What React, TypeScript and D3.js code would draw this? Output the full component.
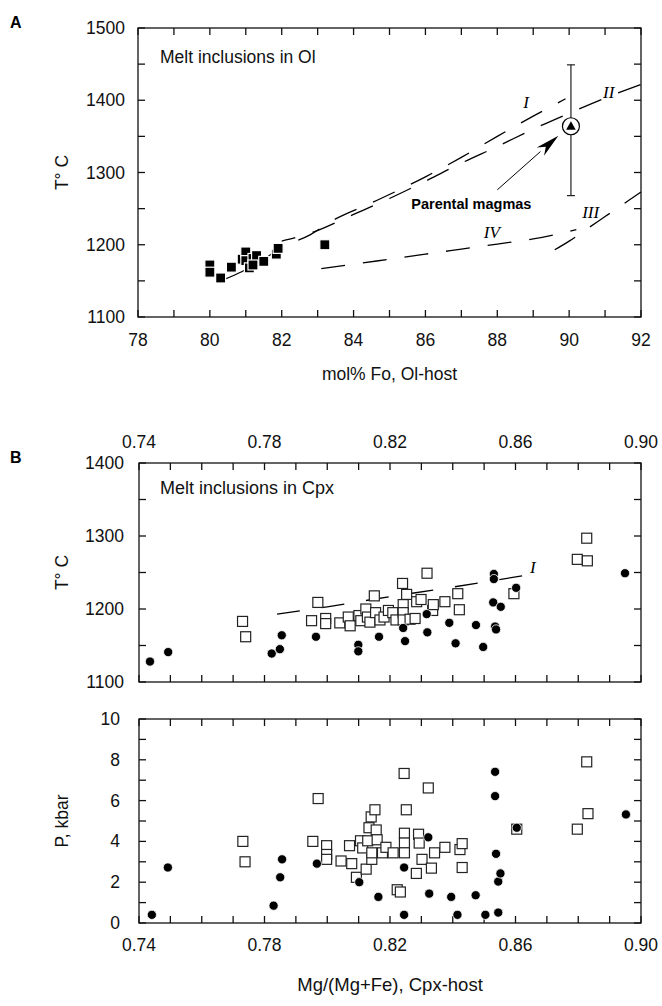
import React from 'react';
import * as d3 from 'd3';

const FONT = '"Liberation Sans", Arial, Helvetica, sans-serif';
const SERIF = '"Liberation Serif", "Times New Roman", serif';

// ---------- Panel A: melt inclusions in olivine ----------
const olFo = [80.0, 80.0, 80.3, 80.6, 80.9, 81.0, 81.0, 81.1, 81.2, 81.3, 81.2, 81.5, 81.85, 81.9, 83.2];
const olT = [1172, 1162, 1154, 1169, 1180, 1190, 1178, 1168, 1181, 1185, 1172, 1177, 1187, 1195, 1200];

const curveIFo = [80.4, 80.9, 81.5, 82.0, 82.8, 83.4, 84.5, 86.0, 87.0, 88.0, 89.0, 89.9];
const curveIT = [1152, 1163, 1180, 1196, 1214, 1233, 1258, 1294, 1321, 1350, 1378, 1402];
const curveIIFo = [82.0, 82.8, 84.0, 85.0, 86.0, 87.0, 88.0, 89.0, 90.0, 91.0, 92.0];
const curveIIT = [1205, 1216, 1242, 1264, 1288, 1313, 1336, 1360, 1382, 1403, 1422];
const curveIIIFo = [89.6, 90.0, 90.5, 91.0, 91.5, 92.0];
const curveIIIT = [1193, 1205, 1222, 1239, 1256, 1273];
const curveIVFo = [83.1, 84.0, 85.0, 86.0, 87.0, 88.0, 89.0, 90.2];
const curveIVT = [1167, 1173, 1180, 1187, 1194, 1201, 1208, 1221];

const parentalFo = 90.05;
const parentalT = 1364;
const parentalErrLow = 1268;
const parentalErrHigh = 1449;

const aXTicks = d3.range(78, 92.001, 1);
const aXLabels = [78, 80, 82, 84, 86, 88, 90, 92];
const aYTicks = d3.range(1100, 1500.1, 50);
const aYLabels = [1100, 1200, 1300, 1400, 1500];

// ---------- Panel B: melt inclusions in clinopyroxene ----------
const bXTicks = d3.range(0, 17).map((i) => 0.74 + i * 0.01);
const bXLabels = ['0.74', '0.78', '0.82', '0.86', '0.90'];
const btYTicks = d3.range(1100, 1400.1, 50);
const btYLabels = [1100, 1200, 1300, 1400];
const bbYTicks = d3.range(0, 10.1, 1);
const bbYLabels = [0, 2, 4, 6, 8, 10];

// open squares, T panel
const sqTopX = [0.773, 0.774, 0.795, 0.7995, 0.7995, 0.797, 0.804, 0.8067, 0.8073, 0.8101, 0.8107, 0.8123, 0.8128, 0.8136, 0.815, 0.8154, 0.8168, 0.8181, 0.8195, 0.8209, 0.8219, 0.824, 0.8253, 0.8242, 0.8242, 0.8242, 0.8264, 0.828, 0.8285, 0.8299, 0.8318, 0.8336, 0.8338, 0.8375, 0.8416, 0.8421, 0.8595, 0.8797, 0.8827, 0.8829];
const sqTopT = [1183, 1162, 1184, 1187, 1180, 1209, 1181, 1189, 1177, 1191, 1184, 1200, 1189, 1182, 1218, 1195, 1185, 1189, 1198, 1195, 1185, 1235, 1220, 1206, 1195, 1185, 1186, 1187, 1210, 1213, 1249, 1198, 1206, 1210, 1221, 1199, 1221, 1268, 1297, 1266];
// filled circles, T panel
const ciTopX = [0.7435, 0.7493, 0.7823, 0.7849, 0.7855, 0.7964, 0.8099, 0.8099, 0.8165, 0.8242, 0.8248, 0.8317, 0.8319, 0.8389, 0.8409, 0.8474, 0.8497, 0.8531, 0.8531, 0.8529, 0.8553, 0.8535, 0.8538, 0.8602, 0.8949];
const ciTopT = [1128, 1141, 1139, 1145, 1164, 1162, 1151, 1142, 1162, 1174, 1156, 1193, 1168, 1181, 1153, 1178, 1148, 1248, 1241, 1209, 1203, 1176, 1172, 1229, 1249];
// dashed line I, T panel
const lineBX = [0.784, 0.80, 0.82, 0.84, 0.866];
const lineBT = [1193, 1203, 1217, 1230, 1248];

// open squares, P panel
const sqBotX = [0.7731, 0.7738, 0.7954, 0.7971, 0.7998, 0.7998, 0.7998, 0.8044, 0.8071, 0.8078, 0.8093, 0.8106, 0.8113, 0.8124, 0.8129, 0.8133, 0.814, 0.8152, 0.8142, 0.8142, 0.8156, 0.8159, 0.8176, 0.8187, 0.821, 0.8223, 0.8233, 0.8245, 0.8246, 0.8246, 0.8246, 0.8252, 0.8284, 0.8291, 0.8293, 0.8302, 0.8322, 0.8332, 0.8342, 0.8375, 0.8423, 0.843, 0.843, 0.8604, 0.8797, 0.8827, 0.8831];
const sqBotP = [4.0, 3.0, 4.0, 6.1, 3.79, 3.36, 3.12, 3.04, 3.79, 2.91, 2.24, 4.03, 3.68, 2.64, 4.03, 4.67, 5.2, 5.55, 3.12, 3.44, 4.56, 4.08, 3.44, 3.71, 3.44, 1.63, 1.52, 7.33, 4.4, 3.92, 3.44, 5.55, 2.43, 4.35, 3.92, 3.12, 6.62, 2.69, 3.44, 3.71, 3.6, 3.89, 2.72, 4.6, 4.6, 7.9, 5.36];
// filled circles, P panel
const ciBotX = [0.7441, 0.7492, 0.7829, 0.785, 0.7856, 0.7967, 0.8102, 0.8163, 0.8245, 0.8245, 0.8322, 0.8325, 0.8395, 0.8415, 0.8473, 0.8504, 0.8535, 0.8535, 0.8538, 0.8545, 0.8545, 0.8552, 0.8604, 0.8952];
const ciBotP = [0.4, 2.72, 0.85, 2.24, 3.12, 2.91, 2.0, 1.28, 0.4, 2.72, 4.2, 1.44, 1.28, 0.4, 1.36, 0.4, 7.41, 6.22, 3.39, 2.03, 0.51, 2.43, 4.67, 5.32];

const A = { l: 138, r: 641, t: 28, b: 317 };
const BT = { l: 139, r: 641, t: 463, b: 682 };
const BB = { l: 139, r: 641, t: 719, b: 923 };
const TL = 7;
const FS = 17.5;

type Sc = d3.ScaleLinear<number, number>;

function Frame({ x, y, xt, yt }: { x: Sc; y: Sc; xt: number[]; yt: number[] }) {
  const [l, r] = x.range();
  const [b, t] = y.range();
  return (
    <g stroke="#111" strokeWidth={1.3} fill="none">
      <rect x={l} y={t} width={r - l} height={b - t} />
      {xt.map((v, i) => (
        <g key={'x' + i}>
          <line x1={x(v)} x2={x(v)} y1={t} y2={t + TL} />
          <line x1={x(v)} x2={x(v)} y1={b} y2={b - TL} />
        </g>
      ))}
      {yt.map((v, i) => (
        <g key={'y' + i}>
          <line x1={l} x2={l + TL} y1={y(v)} y2={y(v)} />
          <line x1={r} x2={r - TL} y1={y(v)} y2={y(v)} />
        </g>
      ))}
    </g>
  );
}

function Squares({ xs, ys, x, y, size, fill, stroke }: any) {
  return (
    <g>
      {xs.map((v: number, i: number) => (
        <rect key={i} x={x(v) - size / 2} y={y(ys[i]) - size / 2} width={size} height={size}
          fill={fill} stroke={stroke} strokeWidth={1.2} />
      ))}
    </g>
  );
}

function Circles({ xs, ys, x, y, r }: any) {
  return (
    <g>
      {xs.map((v: number, i: number) => (
        <circle key={i} cx={x(v)} cy={y(ys[i])} r={r} fill="#000" stroke="#fff" strokeWidth={0.8} />
      ))}
    </g>
  );
}

export default function App() {
  const xA = d3.scaleLinear().domain([78, 92]).range([A.l, A.r]);
  const yA = d3.scaleLinear().domain([1100, 1500]).range([A.b, A.t]);
  const xB = d3.scaleLinear().domain([0.74, 0.9]).range([BT.l, BT.r]);
  const yBT = d3.scaleLinear().domain([1100, 1400]).range([BT.b, BT.t]);
  const yBB = d3.scaleLinear().domain([0, 10]).range([BB.b, BB.t]);

  const lineA = (xs: number[], ys: number[]) =>
    d3.line<number>().x((d) => xA(d)).y((_, i) => yA(ys[i])).curve(d3.curveMonotoneX)(xs) || '';
  const lineBpath = d3.line<number>().x((d) => xB(d)).y((_, i) => yBT(lineBT[i]))(lineBX) || '';

  // arrow
  const ax1 = xA(88.0), ay1 = yA(1276);
  const ax2 = xA(89.7), ay2 = yA(1351);
  const ang = Math.atan2(ay2 - ay1, ax2 - ax1);
  const hl = 24, hw = 5.5;
  const bx = ax2 - hl * Math.cos(ang), by = ay2 - hl * Math.sin(ang);
  const mx = ax2 - hl * 0.7 * Math.cos(ang), my = ay2 - hl * 0.7 * Math.sin(ang);
  const px = -Math.sin(ang), py = Math.cos(ang);
  const head = `M${ax2},${ay2} L${bx + px * hw},${by + py * hw} L${mx},${my} L${bx - px * hw},${by - py * hw} Z`;

  const cx = xA(parentalFo), cy = yA(parentalT);

  const textStyle = { fontFamily: FONT, fontSize: FS, fill: '#111' };

  return (
    <svg width={662} height={1006} style={{ position: 'absolute', left: 0, top: 0, background: '#fff' }}>
      <rect x={0} y={0} width={662} height={1006} fill="#fff" />
      {/* ---------------- Panel A ---------------- */}
      <text x={10} y={28} style={{ fontFamily: FONT, fontSize: 16, fontWeight: 700 }}>A</text>
      <Frame x={xA} y={yA} xt={aXTicks} yt={aYTicks} />
      {aYLabels.map((v) => (
        <text key={v} x={125} y={yA(v) + 6} textAnchor="end" style={textStyle}>{v}</text>
      ))}
      {aXLabels.map((v) => (
        <text key={v} x={xA(v)} y={A.b + 29} textAnchor="middle" style={textStyle}>{v}</text>
      ))}
      <text transform={`translate(68,${(A.t + A.b) / 2}) rotate(-90)`} textAnchor="middle" style={textStyle}>T° C</text>
      <text x={(A.l + A.r) / 2} y={380} textAnchor="middle" style={textStyle}>mol% Fo, Ol-host</text>
      <text x={160} y={63} style={textStyle}>Melt inclusions in Ol</text>

      <g fill="none" stroke="#000" strokeWidth={1.3} strokeDasharray="24 18">
        <path d={lineA(curveIFo, curveIT)} />
        <path d={lineA(curveIIFo, curveIIT)} strokeDashoffset={10} />
        <path d={lineA(curveIIIFo, curveIIIT)} />
        <path d={lineA(curveIVFo, curveIVT)} />
      </g>
      <Squares xs={olFo} ys={olT} x={xA} y={yA} size={10} fill="#000" stroke="#fff" />

      {/* error bar + parental magma */}
      <g stroke="#222" strokeWidth={1.2}>
        <line x1={cx} x2={cx} y1={yA(parentalErrHigh)} y2={yA(parentalErrLow)} />
        <line x1={cx - 4} x2={cx + 4} y1={yA(parentalErrHigh)} y2={yA(parentalErrHigh)} />
        <line x1={cx - 4} x2={cx + 4} y1={yA(parentalErrLow)} y2={yA(parentalErrLow)} />
      </g>
      <circle cx={cx} cy={cy} r={8.5} fill="#fff" stroke="#000" strokeWidth={1.2} />
      <path d={`M${cx},${cy - 5} L${cx + 4.8},${cy + 3.5} L${cx - 4.8},${cy + 3.5} Z`} fill="#000" />
      <line x1={ax1} y1={ay1} x2={bx} y2={by} stroke="#000" strokeWidth={1} />
      <path d={head} fill="#000" />
      <text x={xA(88.95)} y={yA(1249)} textAnchor="end" style={{ fontFamily: FONT, fontSize: 14.5, fontWeight: 700 }}>Parental magmas</text>
      <g style={{ fontFamily: SERIF, fontSize: 17, fontStyle: 'italic' }} textAnchor="middle">
        <text x={xA(88.8)} y={yA(1398) + 6}>I</text>
        <text x={xA(91.1)} y={yA(1412) + 6}>II</text>
        <text x={xA(90.6)} y={yA(1246) + 6}>III</text>
        <text x={xA(87.85)} y={yA(1218) + 6}>IV</text>
      </g>

      {/* ---------------- Panel B ---------------- */}
      <text x={10} y={463} style={{ fontFamily: FONT, fontSize: 16, fontWeight: 700 }}>B</text>
      {bXLabels.map((v) => (
        <text key={'t' + v} x={xB(+v)} y={BT.t - 15} textAnchor="middle" style={textStyle}>{v}</text>
      ))}
      <Frame x={xB} y={yBT} xt={bXTicks} yt={btYTicks} />
      {btYLabels.map((v) => (
        <text key={v} x={124} y={yBT(v) + 6} textAnchor="end" style={textStyle}>{v}</text>
      ))}
      <text transform={`translate(68,${(BT.t + BT.b) / 2}) rotate(-90)`} textAnchor="middle" style={textStyle}>T° C</text>
      <text x={160} y={494} style={{ ...textStyle, fontSize: 18 }}>Melt inclusions in Cpx</text>
      <path d={lineBpath} fill="none" stroke="#000" strokeWidth={1.3} strokeDasharray="23 22" />
      <text x={xB(0.8655)} y={yBT(1258) + 6} textAnchor="middle" style={{ fontFamily: SERIF, fontSize: 17, fontStyle: 'italic' }}>I</text>
      <Squares xs={sqTopX} ys={sqTopT} x={xB} y={yBT} size={10} fill="#fff" stroke="#222" />
      <Circles xs={ciTopX} ys={ciTopT} x={xB} y={yBT} r={4.6} />

      <Frame x={xB} y={yBB} xt={bXTicks} yt={bbYTicks} />
      {bbYLabels.map((v) => (
        <text key={v} x={120} y={yBB(v) + 6} textAnchor="end" style={textStyle}>{v}</text>
      ))}
      <text transform={`translate(68,${(BB.t + BB.b) / 2}) rotate(-90)`} textAnchor="middle" style={textStyle}>P, kbar</text>
      <Squares xs={sqBotX} ys={sqBotP} x={xB} y={yBB} size={10} fill="#fff" stroke="#222" />
      <Circles xs={ciBotX} ys={ciBotP} x={xB} y={yBB} r={4.6} />
      {bXLabels.map((v) => (
        <text key={'b' + v} x={xB(+v)} y={BB.b + 28} textAnchor="middle" style={textStyle}>{v}</text>
      ))}
      <text x={(BB.l + BB.r) / 2} y={991} textAnchor="middle" style={{ ...textStyle, fontSize: 18.5 }}>Mg/(Mg+Fe), Cpx-host</text>
    </svg>
  );
}
